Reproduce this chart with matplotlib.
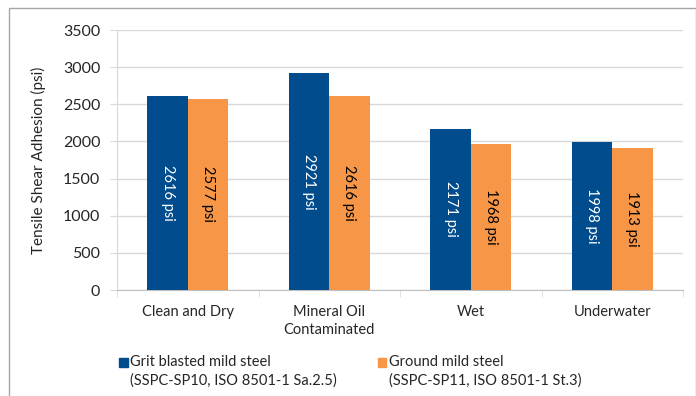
import numpy as np
import matplotlib
matplotlib.use("Agg")
import matplotlib.pyplot as plt
from matplotlib.patches import Rectangle, Patch
from matplotlib.legend_handler import HandlerPatch

plt.rcParams['font.family'] = ['Lato', 'DejaVu Sans']

# data
categories = ['Clean and Dry', 'Mineral Oil\nContaminated', 'Wet', 'Underwater']
grit = [2616, 2921, 2171, 1998]
ground = [2577, 2616, 1968, 1913]
series_names = ['Grit blasted mild steel\n(SSPC-SP10, ISO 8501-1 Sa.2.5)',
                'Ground mild steel\n(SSPC-SP11, ISO 8501-1 St.3)']
yticks = [0, 500, 1000, 1500, 2000, 2500, 3000, 3500]

blue = '#004C8C'
orange = '#F79646'
grid_col = '#D9D9D9'
txt_col = '#262626'
fs = 10.5

W, H = 696, 396
fig = plt.figure(figsize=(W / 100, H / 100), dpi=100)
ax = fig.add_axes([117 / W, 1 - 290 / H, (683 - 117) / W, 260 / H])

x = np.arange(len(categories))
w = 0.286
b1 = ax.bar(x - w / 2, grit, w, color=blue, zorder=3)
b2 = ax.bar(x + w / 2, ground, w, color=orange, zorder=3)

# value labels inside bars, rotated
for bars, vals, col in [(b1, grit, 'white'), (b2, ground, 'black')]:
    for bar, v in zip(bars, vals):
        ax.text(bar.get_x() + bar.get_width() / 2, v / 2, f'{v} psi',
                rotation=270, ha='center', va='center', color=col, fontsize=fs)

ax.set_xlim(-0.5, len(categories) - 0.5)
ax.set_ylim(0, 3500)
ax.set_yticks(yticks)
ax.set_xticks(x)
ax.set_xticklabels(categories, fontsize=fs, color=txt_col, linespacing=1.3)
ax.tick_params(axis='y', labelsize=11.5, labelcolor=txt_col, length=5, color=grid_col, pad=7)
ax.tick_params(axis='x', length=0, pad=11)
# small ticks between categories
ax.set_xticks(np.arange(-0.5, len(categories)), minor=True)
ax.tick_params(axis='x', which='minor', length=5, color=grid_col)

ax.yaxis.grid(True, color=grid_col, lw=1)
ax.set_axisbelow(True)
for s in ['top', 'right']:
    ax.spines[s].set_visible(False)
ax.spines['left'].set_color(grid_col)
ax.spines['bottom'].set_color('#BFBFBF')

ax.set_ylabel('Tensile Shear Adhesion (psi)', fontsize=11, color=txt_col, labelpad=12)


def top_square(legend, orig_handle, xdescent, ydescent, width, height, fontsize):
    # put the square next to the first line of a two-line label
    return Rectangle((-xdescent, -ydescent + 0.62 * fontsize), width, height)


handles = [Patch(color=blue), Patch(color=orange)]
leg = fig.legend(handles, series_names, loc='upper left', ncol=2,
                 bbox_to_anchor=(106 / W, 1 - 342 / H), frameon=False,
                 fontsize=fs, handlelength=0.6, handleheight=0.6,
                 handletextpad=0.15, columnspacing=2.8, labelcolor=txt_col,
                 handler_map={Patch: HandlerPatch(patch_func=top_square)})
for t in leg.get_texts():
    t.set_linespacing(1.35)

# outer grey frame (bottom edge is cut off in the reference)
fig.patches.append(Rectangle((8.5 / W, -0.1), (W - 9) / W, 1.1 - 8.5 / H,
                             transform=fig.transFigure, fill=False,
                             edgecolor='#A6A6A6', lw=1))

fig.savefig('out.png', dpi=100)
